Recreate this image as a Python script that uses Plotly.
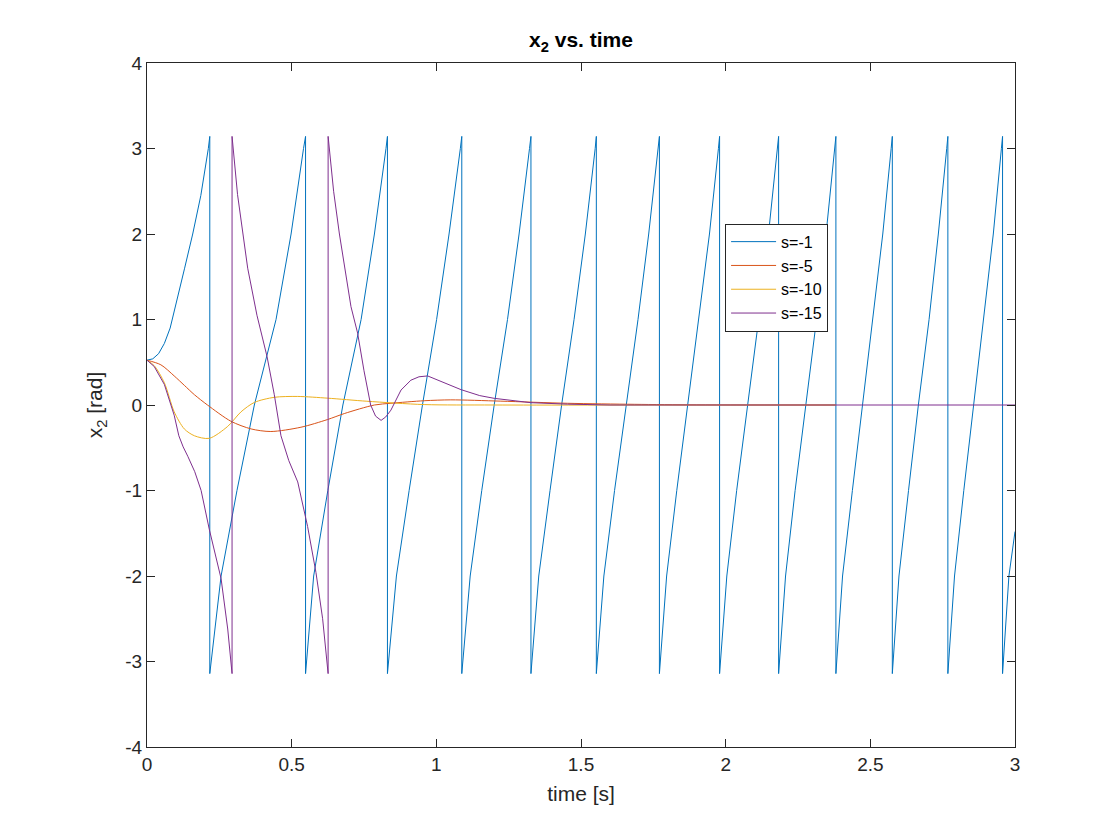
import plotly.graph_objects as go

PI = 3.1416

# s = -1 : keeps spinning, wraps between -pi and pi
t_s1 = [0, 0.02, 0.04, 0.06, 0.08, 0.1, 0.13, 0.158, 0.186, 0.212, 0.217,
        0.217, 0.256, 0.311, 0.371, 0.446, 0.498, 0.541, 0.548,
        0.548, 0.576, 0.625, 0.677, 0.740, 0.786, 0.826, 0.831,
        0.831, 0.862, 0.906, 0.952, 1.001, 1.044, 1.083, 1.088,
        1.088, 1.117, 1.157, 1.200, 1.246, 1.286, 1.322, 1.327,
        1.327, 1.354, 1.393, 1.433, 1.476, 1.515, 1.549, 1.553,
        1.553, 1.579, 1.616, 1.656, 1.697, 1.734, 1.767, 1.771,
        1.771, 1.796, 1.831, 1.869, 1.908, 1.944, 1.975, 1.979,
        1.979, 2.004, 2.038, 2.075, 2.114, 2.148, 2.179, 2.183,
        2.183, 2.207, 2.240, 2.276, 2.314, 2.347, 2.377, 2.381,
        2.381, 2.404, 2.438, 2.473, 2.510, 2.543, 2.572, 2.576,
        2.576, 2.599, 2.632, 2.666, 2.703, 2.735, 2.764, 2.768,
        2.768, 2.791, 2.823, 2.857, 2.893, 2.925, 2.953, 2.957,
        2.957, 2.979, 3.0]
x2_s1 = [0.524, 0.54, 0.60, 0.72, 0.90, 1.17, 1.6, 2.0, 2.45, 3.0, PI,
         -PI, -2, -1, 0, 1, 2, 3, PI,
         -PI, -2, -1, 0, 1, 2, 3, PI,
         -PI, -2, -1, 0, 1, 2, 3, PI,
         -PI, -2, -1, 0, 1, 2, 3, PI,
         -PI, -2, -1, 0, 1, 2, 3, PI,
         -PI, -2, -1, 0, 1, 2, 3, PI,
         -PI, -2, -1, 0, 1, 2, 3, PI,
         -PI, -2, -1, 0, 1, 2, 3, PI,
         -PI, -2, -1, 0, 1, 2, 3, PI,
         -PI, -2, -1, 0, 1, 2, 3, PI,
         -PI, -2, -1, 0, 1, 2, 3, PI,
         -PI, -2, -1, 0, 1, 2, 3, PI,
         -PI, -2, -1.48]

# s = -5
t_s5 = [0, 0.048, 0.094, 0.129, 0.164, 0.209, 0.29, 0.36, 0.428, 0.532, 0.624,
        0.682, 0.786, 0.843, 0.958, 1.05, 1.223, 1.454, 1.685, 1.9, 2.38]
x2_s5 = [0.524, 0.47, 0.34, 0.23, 0.12, 0.0, -0.19, -0.28, -0.31, -0.26, -0.17,
         -0.10, 0.0, 0.02, 0.05, 0.06, 0.045, 0.02, 0.008, 0.002, 0.0]

# s = -10
t_s10 = [0, 0.025, 0.06, 0.094, 0.129, 0.164, 0.215, 0.279, 0.325, 0.371, 0.44,
         0.521, 0.624, 0.76, 0.958, 1.2, 2.38]
x2_s10 = [0.524, 0.46, 0.26, -0.08, -0.28, -0.36, -0.39, -0.25, -0.08, 0.03, 0.09,
          0.10, 0.08, 0.044, 0.005, 0.0, 0.0]

# s = -15
t_s15 = [0, 0.025, 0.06, 0.094, 0.11, 0.125, 0.141, 0.165, 0.187, 0.215, 0.256, 0.279, 0.294,
         0.294, 0.313, 0.348, 0.38, 0.415, 0.44, 0.463, 0.49, 0.521, 0.555, 0.584, 0.607, 0.626,
         0.626, 0.645, 0.665, 0.705, 0.728, 0.75, 0.773, 0.79, 0.809, 0.825, 0.843, 0.878,
         0.912, 0.94, 0.97, 1.02, 1.085, 1.15, 1.2, 1.327, 1.454, 1.6, 3.0]
x2_s15 = [0.524, 0.45, 0.24, -0.12, -0.36, -0.49, -0.6, -0.78, -1.0, -1.45, -2.03, -2.62, -PI,
          PI, 2.46, 1.6, 1.05, 0.565, 0.12, -0.36, -0.65, -0.9, -1.42, -1.96, -2.5, -PI,
          PI, 2.5, 2.0, 1.15, 0.84, 0.4, 0.0, -0.13, -0.18, -0.14, -0.06, 0.175,
          0.29, 0.33, 0.34, 0.27, 0.18, 0.11, 0.078, 0.027, 0.01, 0.0, 0.0]

x_ticks = [0, 0.5, 1, 1.5, 2, 2.5, 3]
x_ticktext = ['0', '0.5', '1', '1.5', '2', '2.5', '3']
y_ticks = [-4, -3, -2, -1, 0, 1, 2, 3, 4]
y_ticktext = ['-4', '-3', '-2', '-1', '0', '1', '2', '3', '4']

fig = go.Figure()
fig.add_trace(go.Scatter(x=t_s1, y=x2_s1, mode='lines', name='s=-1',
                         line=dict(color='#0072BD', width=1)))
fig.add_trace(go.Scatter(x=t_s5, y=x2_s5, mode='lines', name='s=-5',
                         line=dict(color='#D95319', width=1, shape='spline', smoothing=0.8)))
fig.add_trace(go.Scatter(x=t_s10, y=x2_s10, mode='lines', name='s=-10',
                         line=dict(color='#EDB120', width=1, shape='spline', smoothing=0.8)))
fig.add_trace(go.Scatter(x=t_s15, y=x2_s15, mode='lines', name='s=-15',
                         line=dict(color='#7E2F8E', width=1)))

axis_style = dict(showline=True, mirror='ticks', linecolor='#262626', linewidth=1,
                  ticks='inside', ticklen=8, tickcolor='#262626', showgrid=False,
                  zeroline=False, tickfont=dict(size=19, color='#262626'))

fig.update_layout(
    width=1120, height=840,
    margin=dict(l=139, r=113, t=55, b=101),
    paper_bgcolor='white', plot_bgcolor='white',
    font=dict(family='Liberation Sans, Arial, sans-serif', color='#262626'),
    title=dict(text='<b>x<sub>2</sub> vs. time</b>', x=(573 / 1120), xanchor='center',
               y=1 - 32 / 840, yanchor='middle', font=dict(size=21, color='#000000')),
    xaxis=dict(range=[0, 3], tickvals=x_ticks, ticktext=x_ticktext,
               title=dict(text='time [s]', font=dict(size=21), standoff=12), **axis_style),
    yaxis=dict(range=[-4, 4], tickvals=y_ticks, ticktext=y_ticktext,
               title=dict(text='x<sub>2</sub> [rad]', font=dict(size=21), standoff=16), **axis_style),
    legend=dict(x=0.666, y=0.765, xanchor='left', yanchor='top', bgcolor='white',
                bordercolor='#262626', borderwidth=1, font=dict(size=16, color='#000000'),
                tracegroupgap=0, itemwidth=45),
    showlegend=True,
)

fig.write_html("out.html")
